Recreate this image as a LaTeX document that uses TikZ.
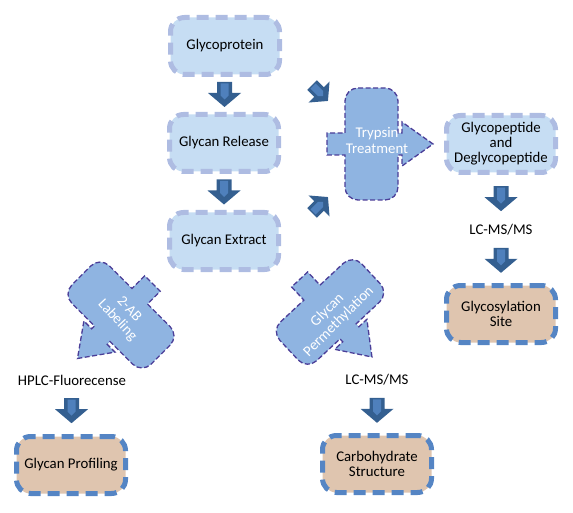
\documentclass[tikz,border=0pt]{standalone}
\usepackage{fontspec}
\setmainfont{Carlito}
\usetikzlibrary{calc}
\definecolor{boxfill}{HTML}{C6DDF3}
\definecolor{boxline}{HTML}{AEBCE2}
\definecolor{tanfill}{HTML}{DFC5AF}
\definecolor{tanline}{HTML}{5585C4}
\definecolor{procfill}{HTML}{8FB4E1}
\definecolor{procline}{HTML}{4B3E98}
\definecolor{arrdark}{HTML}{345F90}
\definecolor{arrlight}{HTML}{4F80BC}
\tikzset{
 txtbase/.style={font=\fontsize{14.8}{15}\selectfont, align=center, inner sep=0pt},
 lightbox/.style={txtbase, draw=boxline, fill=boxfill, line width=5pt, dash pattern=on 12pt off 7pt, rounded corners=14pt, minimum width=109pt, minimum height=57pt},
 tanbox/.style={lightbox, draw=tanline, fill=tanfill},
 plaintext/.style={txtbase, inner sep=2pt},
 proctext/.style={txtbase, text=white, font=\fontsize{14.8}{16}\selectfont},
 procpath/.style={draw=procline, fill=procfill, line width=1.3pt, dash pattern=on 5pt off 2.5pt},
 blockarr/.pic={
   \fill[arrdark] (-12.5,-7.5) -- (-1.5,-7.5) -- (-1.5,-16.5) -- (12.5,0) -- (-1.5,16.5) -- (-1.5,7.5) -- (-12.5,7.5) -- cycle;
   \fill[arrlight] (-11,-4) -- (1,-4) -- (5,0) -- (1,4) -- (-11,4) -- cycle;
 },
 procshape/.pic={
   \path[procpath] (-13.5,-56) -- (13.5,-56) .. controls (20.7,-56) and (26.5,-50.2) .. (26.5,-43)
   -- (26.5,-11) -- (30.5,-11) -- (30.5,-22) -- (61.5,0) -- (30.5,22) -- (30.5,11) -- (26.5,11)
   -- (26.5,43) .. controls (26.5,50.2) and (20.7,56) .. (13.5,56)
   -- (-13.5,56) .. controls (-20.7,56) and (-26.5,50.2) .. (-26.5,43)
   -- (-26.5,11) -- (-44.5,11) -- (-44.5,-11) -- (-26.5,-11)
   -- (-26.5,-43) .. controls (-26.5,-50.2) and (-20.7,-56) .. (-13.5,-56) -- cycle;
 }
}
\begin{document}
\begin{tikzpicture}[x=1pt,y=-1pt]
\useasboundingbox (0,0) rectangle (573,513);
% boxes
\node[lightbox] (gp) at (225,46) {Glycoprotein};
\node[lightbox] (gr) at (224,143) {Glycan Release};
\node[lightbox] (ge) at (224,241) {Glycan Extract};
\node[lightbox] (gpep) at (501,144) {Glycopeptide\\and\\Deglycopeptide};
\node[plaintext] (lc1) at (501,230) {LC-MS/MS};
\node[tanbox] (gs) at (501,314) {Glycosylation\\Site};
\node[plaintext] (hplc) at (72,380) {HPLC-Fluorecense};
\node[tanbox] (prof) at (71,465) {Glycan Profiling};
\node[plaintext] (lc2) at (377,380) {LC-MS/MS};
\node[tanbox] (carb) at (377,464) {Carbohydrate\\Structure};
% process shapes
\pic at (371.5,144) {procshape};
\node[proctext] (tryp) at (377,140) {Trypsin\\Treatment};
\pic[rotate=-135] at (121,315) {procshape};
\node[proctext, rotate=-47] (ab) at (123,315) {2-AB\\Labeling};
\pic[rotate=-47] at (330,312) {procshape};
\node[proctext, rotate=45] (perm) at (333,316) {Glycan\\Permethylation};
% block arrows
\pic[rotate=-90] at ($(gp.south)!0.5!(gr.north)$) {blockarr};
\pic[rotate=-90] at ($(gr.south)!0.5!(ge.north)$) {blockarr};
\pic[rotate=-90] at ($(gpep.south)!0.5!(lc1.north)$) {blockarr};
\pic[rotate=-90] at ($(lc1.south)!0.5!(gs.north)$) {blockarr};
\pic[rotate=-90] at ($(hplc.south)!0.5!(prof.north)$) {blockarr};
\pic[rotate=-90] at ($(lc2.south)!0.5!(carb.north)$) {blockarr};
\pic[rotate=-45, scale=0.9] at (320,93) {blockarr};
\pic[rotate=45, scale=0.9] at (320,205) {blockarr};
\end{tikzpicture}
\end{document}
